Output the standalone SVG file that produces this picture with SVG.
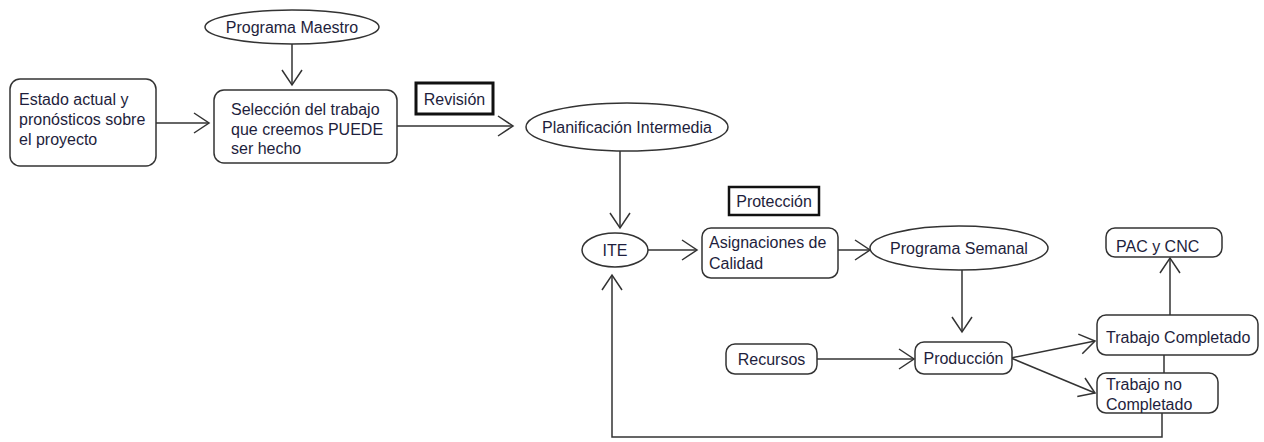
<svg xmlns="http://www.w3.org/2000/svg" width="1264" height="442" viewBox="0 0 1264 442">
<style>
.box{fill:#fff;stroke:#333;stroke-width:1.5}
.hl{fill:#fff;stroke:#111;stroke-width:3}
.t{font-family:"Liberation Sans",Arial,sans-serif;font-size:16px;fill:#1e1e3c}
.c{stroke:#333;stroke-width:1.5;fill:none;marker-end:url(#arr)}
.l{stroke:#333;stroke-width:1.5;fill:none}
</style>
<defs>
<marker id="arr" markerUnits="userSpaceOnUse" viewBox="-17 -11 19 22" markerWidth="19" markerHeight="22" refX="0" refY="0" orient="auto">
<path d="M-15,-10 L0,0 L-15,10" fill="none" stroke="#333" stroke-width="1.5"/>
</marker>
</defs>
<rect width="1264" height="442" fill="#fff"/>
<g id="connectors">
<line class="c" x1="292" y1="44" x2="292" y2="85"/>
<line class="c" x1="156" y1="123" x2="209" y2="123"/>
<line class="c" x1="397" y1="126" x2="513" y2="126"/>
<line class="c" x1="620" y1="151" x2="620" y2="228"/>
<line class="c" x1="648" y1="250" x2="697" y2="250"/>
<line class="c" x1="838" y1="250" x2="870" y2="250"/>
<line class="c" x1="962" y1="270" x2="962" y2="332"/>
<line class="c" x1="817" y1="359" x2="914" y2="359"/>
<line class="c" x1="1011" y1="358" x2="1095" y2="341"/>
<line class="c" x1="1011" y1="358" x2="1095" y2="393"/>
<line class="c" x1="1170" y1="315" x2="1170" y2="258"/>
<line class="l" x1="1164" y1="355" x2="1164" y2="373"/>
<path class="c" d="M1162,413 V437 H612 V275"/>
</g>
<g id="programa-maestro">
<ellipse class="box" cx="292" cy="27" rx="87" ry="17"/>
<text class="t" x="292" y="33" text-anchor="middle">Programa Maestro</text>
</g>
<g id="estado-actual">
<rect class="box" x="10" y="79" width="146" height="87" rx="10"/>
<text class="t" x="19" y="105">Estado actual y</text>
<text class="t" x="19" y="125">pronósticos sobre</text>
<text class="t" x="19" y="145">el proyecto</text>
</g>
<g id="seleccion">
<rect class="box" x="214" y="90" width="183" height="73" rx="10"/>
<text class="t" x="231" y="115">Selección del trabajo</text>
<text class="t" x="231" y="135">que creemos PUEDE</text>
<text class="t" x="231" y="154">ser hecho</text>
</g>
<g id="revision">
<rect class="hl" x="416" y="83" width="77" height="31"/>
<text class="t" x="454.5" y="105" text-anchor="middle">Revisión</text>
</g>
<g id="planificacion">
<ellipse class="box" cx="627" cy="127" rx="101" ry="24"/>
<text class="t" x="627" y="133" text-anchor="middle">Planificación Intermedia</text>
</g>
<g id="proteccion">
<rect class="hl" x="729" y="187" width="90" height="28" style="stroke-width:2.5"/>
<text class="t" x="774" y="207" text-anchor="middle">Protección</text>
</g>
<g id="ite">
<ellipse class="box" cx="615" cy="250" rx="33" ry="17"/>
<text class="t" x="615" y="256" text-anchor="middle">ITE</text>
</g>
<g id="asignaciones">
<rect class="box" x="702" y="228" width="136" height="50" rx="9"/>
<text class="t" x="709" y="248">Asignaciones de</text>
<text class="t" x="709" y="269">Calidad</text>
</g>
<g id="programa-semanal">
<ellipse class="box" cx="959" cy="248" rx="89" ry="22"/>
<text class="t" x="959" y="254" text-anchor="middle">Programa Semanal</text>
</g>
<g id="recursos">
<rect class="box" x="726" y="344" width="91" height="30" rx="9"/>
<text class="t" x="771.5" y="365" text-anchor="middle">Recursos</text>
</g>
<g id="produccion">
<rect class="box" x="915" y="342" width="97" height="32" rx="9"/>
<text class="t" x="963.5" y="364" text-anchor="middle">Producción</text>
</g>
<g id="pac-cnc">
<rect class="box" x="1106" y="228" width="116" height="29" rx="9"/>
<text class="t" x="1116" y="252">PAC y CNC</text>
</g>
<g id="trabajo-completado">
<rect class="box" x="1097" y="315" width="161" height="40" rx="9"/>
<text class="t" x="1106" y="343">Trabajo Completado</text>
</g>
<g id="trabajo-no-completado">
<rect class="box" x="1097" y="373" width="121" height="40" rx="9"/>
<text class="t" x="1106" y="390">Trabajo no</text>
<text class="t" x="1106" y="410">Completado</text>
</g>
</svg>
